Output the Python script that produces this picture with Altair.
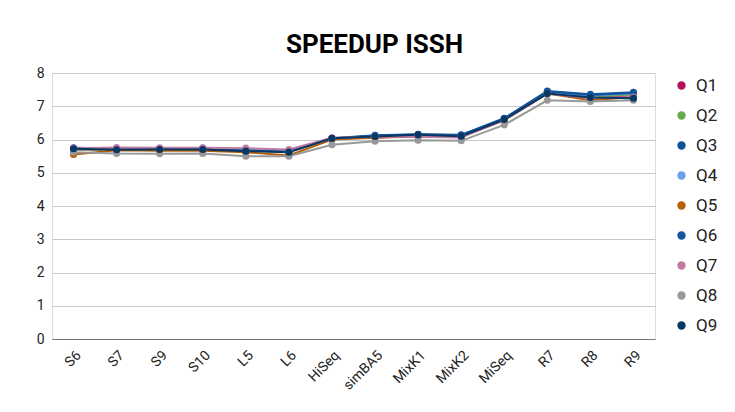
import altair as alt
import pandas as pd

categories = ["S6", "S7", "S9", "S10", "L5", "L6", "HiSeq", "simBA5", "MixK1", "MixK2", "MiSeq", "R7", "R8", "R9"]
series_names = ["Q1", "Q2", "Q3", "Q4", "Q5", "Q6", "Q7", "Q8", "Q9"]

q1 = [5.70, 5.70, 5.70, 5.71, 5.68, 5.66, 6.02, 6.06, 6.10, 6.08, 6.58, 7.40, 7.26, 7.30]
q2 = [5.70, 5.69, 5.70, 5.70, 5.66, 5.63, 6.02, 6.08, 6.14, 6.12, 6.62, 7.40, 7.28, 7.36]
q3 = [5.75, 5.73, 5.73, 5.74, 5.68, 5.64, 6.04, 6.13, 6.16, 6.14, 6.64, 7.46, 7.36, 7.42]
q4 = [5.72, 5.72, 5.72, 5.73, 5.72, 5.66, 6.03, 6.10, 6.13, 6.11, 6.60, 7.42, 7.32, 7.38]
q5 = [5.55, 5.68, 5.66, 5.66, 5.62, 5.52, 6.00, 6.05, 6.10, 6.08, 6.58, 7.38, 7.18, 7.28]
q6 = [5.73, 5.72, 5.72, 5.72, 5.67, 5.64, 6.03, 6.11, 6.15, 6.13, 6.63, 7.44, 7.34, 7.40]
q7 = [5.74, 5.76, 5.75, 5.75, 5.74, 5.70, 6.05, 6.08, 6.08, 6.06, 6.58, 7.38, 7.24, 7.28]
q8 = [5.62, 5.58, 5.57, 5.58, 5.50, 5.50, 5.84, 5.95, 5.98, 5.96, 6.44, 7.18, 7.14, 7.18]
q9 = [5.72, 5.69, 5.70, 5.70, 5.65, 5.62, 6.04, 6.09, 6.14, 6.10, 6.60, 7.38, 7.26, 7.24]

colors = ["#B3125A", "#6AA84F", "#0B5394", "#6D9EEB", "#B45F06", "#1155A0", "#C27BA0", "#999999", "#073763"]

all_series = [q1, q2, q3, q4, q5, q6, q7, q8, q9]
rows = []
for si, (name, vals) in enumerate(zip(series_names, all_series)):
    for ci, (c, v) in enumerate(zip(categories, vals)):
        rows.append({"cat": c, "series": name, "value": v, "order": si})
df = pd.DataFrame(rows)

FONT = "Roboto"

x_enc = alt.X("cat:N", sort=categories, title=None,
              scale=alt.Scale(type="point", padding=0.5),
              axis=alt.Axis(labelAngle=-45, labelFontSize=14, labelColor="#222222",
                            ticks=False, domain=True, domainColor="#777777",
                            grid=False, labelPadding=9, labelFont=FONT))
y_enc = alt.Y("value:Q", title=None,
              scale=alt.Scale(domain=[0, 8], nice=False),
              axis=alt.Axis(values=[0, 1, 2, 3, 4, 5, 6, 7, 8], labelFontSize=14, labelColor="#222222",
                            ticks=False, domain=False, gridColor="#C8C8C8", labelPadding=8,
                            labelFont=FONT))
color_scale = alt.Scale(domain=series_names, range=colors)
legend = alt.Legend(title=None, orient="none", legendX=621, legendY=4, padding=0,
                    symbolType="circle", symbolSize=70, symbolStrokeWidth=0,
                    labelFontSize=17, labelFont=FONT, labelColor="#222222",
                    rowPadding=12, labelOffset=6)

lines = alt.Chart(df).mark_line(strokeWidth=2).encode(
    x=x_enc, y=y_enc,
    color=alt.Color("series:N", scale=color_scale, legend=legend),
    order=alt.Order("order:Q"),
    detail="series:N",
)

points = alt.Chart(df).mark_point(filled=True, size=50, opacity=1).encode(
    x=x_enc, y=y_enc,
    color=alt.Color("series:N", scale=color_scale, legend=legend),
    order=alt.Order("order:Q"),
)

chart = alt.layer(lines, points).properties(
    width=603, height=266,
    autosize="none",
    padding={"left": 44, "top": 65, "right": 72, "bottom": 65},
    title=alt.TitleParams("SPEEDUP ISSH", fontSize=26, font=FONT, fontWeight="bold",
                          color="#000000", dx=21, offset=8, anchor="middle"),
).configure_view(stroke=None).configure(font=FONT)

chart.save("out.html", embed_options={"renderer": "svg", "actions": False})
